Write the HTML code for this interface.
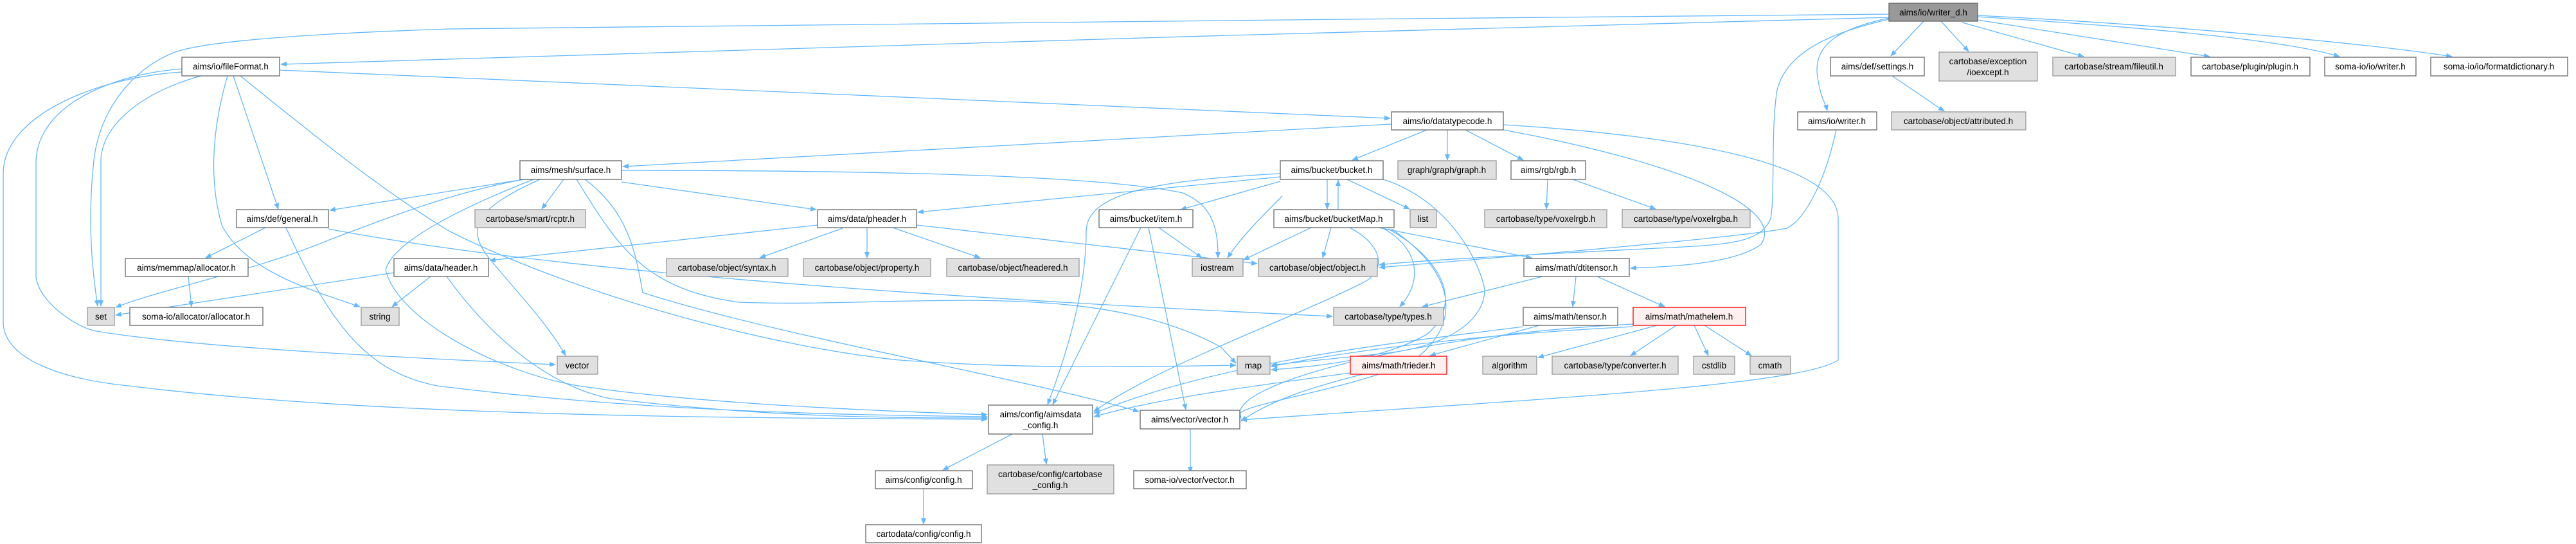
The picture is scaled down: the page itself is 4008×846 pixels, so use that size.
<!DOCTYPE html>
<html><head><meta charset="utf-8"><style>
html,body{margin:0;padding:0;background:#fff;}
svg{display:block;}
text{font-family:"Liberation Sans","DejaVu Sans",sans-serif;font-size:13.5px;fill:#000;}
.w{fill:#fff;stroke:#666;stroke-width:1.3}
.g{fill:#e0e0e0;stroke:#999;stroke-width:1.3}
.m{fill:#999;stroke:#666;stroke-width:1.3}
.r{fill:#fff0f0;stroke:#f00;stroke-width:1.3}
.e{fill:none;stroke:#63b8ff;stroke-width:1.3;marker-end:url(#a)}
</style></head><body>
<svg width="4008" height="846" viewBox="0 0 4008 846" xmlns="http://www.w3.org/2000/svg">
<defs><marker id="a" markerWidth="10" markerHeight="8" refX="9" refY="4" orient="auto" markerUnits="userSpaceOnUse"><path d="M0,0 L10,4 L0,8 z" fill="#63b8ff"/></marker></defs>
<g>
<!-- writer_d edges -->
<path class="e" d="M2939,22 C2200,30 1000,38 700,45 C400,55 300,70 270,82 C200,110 150,180 145,260 C138,330 140,400 152,476"/>
<path class="e" d="M2939,27 C2200,45 1000,82 437,100"/>
<path class="e" d="M2993,33 L2942,87"/>
<path class="e" d="M2939,28 C2860,45 2820,70 2828,120 C2832,150 2840,160 2843,172"/>
<path class="e" d="M2939,30 C2850,50 2780,80 2765,140 C2755,200 2762,300 2755,340 C2740,375 2700,380 2600,385 C2400,395 2200,405 2146,412"/>
<path class="e" d="M2857,202 C2840,280 2810,340 2780,355 C2700,370 2400,395 2146,416"/>
<path class="e" d="M3020,33 L3063,80"/>
<path class="e" d="M3053,35 L3242,88"/>
<path class="e" d="M3077,31 L3438,88"/>
<path class="e" d="M3077,26 C3300,40 3550,60 3640,88"/>
<path class="e" d="M3077,24 C3400,40 3700,70 3815,88"/>
<path class="e" d="M2944,118 L3025,173"/>
<!-- fileFormat edges -->
<path class="e" d="M435,109 L2163,184"/>
<path class="e" d="M283,107 C180,115 60,160 56,250 L56,430 C60,470 120,510 150,515 C300,540 600,555 864,567"/>
<path class="e" d="M283,112 C150,120 5,180 5,270 L5,500 C5,560 100,590 200,600 C600,650 1200,650 1536,652"/>
<path class="e" d="M313,118 C230,140 158,190 157,250 L157,476"/>
<path class="e" d="M354,118 C330,200 325,280 345,350 C380,420 480,450 560,477"/>
<path class="e" d="M363,118 L433,325"/>
<path class="e" d="M374,118 C500,220 600,300 700,360 C900,460 1200,540 1400,560 C1600,575 1800,570 1923,568"/>
<!-- general -->
<path class="e" d="M413,354 L320,401"/>
<path class="e" d="M511,356 C900,430 1600,470 2073,492"/>
<path class="e" d="M445,354 C520,520 580,580 680,600 C1000,640 1300,645 1536,648"/>
<path class="e" d="M293,430 L298,477"/>
<!-- surface -->
<path class="e" d="M815,279 L513,327"/>
<path class="e" d="M815,279 C700,300 600,340 510,374 C400,420 250,450 180,478"/>
<path class="e" d="M877,279 L843,325"/>
<path class="e" d="M840,279 C750,320 720,350 760,400 C800,450 850,500 880,553"/>
<path class="e" d="M830,279 C700,330 610,380 600,420 C620,500 780,580 900,600 C1100,630 1400,640 1536,645"/>
<path class="e" d="M967,283 L1270,326"/>
<path class="e" d="M967,265 C1300,265 1700,270 1840,300 C1890,320 1895,360 1895,401"/>
<path class="e" d="M897,279 C960,380 1000,450 1150,470 C1400,480 1700,430 1900,540 L1923,565"/>
<path class="e" d="M910,279 C980,330 990,400 1000,455 C1200,520 1600,590 1772,640"/>
<!-- header / pheader -->
<path class="e" d="M1272,350 L762,405"/>
<path class="e" d="M613,424 L180,490"/>
<path class="e" d="M670,430 L610,477"/>
<path class="e" d="M695,430 C760,520 850,600 950,620 C1200,650 1400,650 1536,650"/>
<path class="e" d="M1311,355 L1182,401"/>
<path class="e" d="M1349,354 L1349,401"/>
<path class="e" d="M1389,354 L1525,401"/>
<path class="e" d="M1426,350 L1956,410"/>
<!-- item -->
<path class="e" d="M1803,354 L1870,401"/>
<path class="e" d="M1775,354 L1638,629"/>
<path class="e" d="M1787,354 L1845,637"/>
<!-- bucket -->
<path class="e" d="M1992,282 L1837,326"/>
<path class="e" d="M1992,275 L1428,330"/>
<path class="e" d="M1992,270 C1800,280 1690,300 1690,360 C1690,450 1660,550 1630,629"/>
<path class="e" d="M1995,305 C1960,340 1930,370 1910,401"/>
<path class="e" d="M2065,279 L2065,325"/>
<path class="e" d="M2082,326 L2082,280"/>
<path class="e" d="M2096,279 L2193,325"/>
<path class="e" d="M2152,279 C2250,310 2300,400 2310,450 C2310,500 2250,540 2150,550 C2050,560 2000,565 1978,568"/>
<!-- bucketMap -->
<path class="e" d="M2071,354 L2058,401"/>
<path class="e" d="M2040,354 L1935,404"/>
<path class="e" d="M2145,354 L2383,401"/>
<path class="e" d="M2150,354 C2200,380 2220,430 2178,477"/>
<path class="e" d="M2100,354 C2150,380 2160,420 2120,440 C2000,500 1800,570 1702,640"/>
<path class="e" d="M2160,356 C2240,400 2280,470 2220,520 C2150,560 2050,570 1978,575"/>
<path class="e" d="M2165,356 C2260,420 2280,500 2200,560 C2100,610 1900,630 1931,650"/>
<!-- datatypecode -->
<path class="e" d="M2220,202 L2104,249"/>
<path class="e" d="M2252,202 L2252,249"/>
<path class="e" d="M2280,202 L2370,249"/>
<path class="e" d="M2339,202 C2600,250 2780,320 2740,380 C2700,410 2600,415 2537,417"/>
<path class="e" d="M2339,194 C2600,210 2860,250 2860,340 L2860,560 C2800,600 2400,620 1931,653"/>
<path class="e" d="M2165,193 L969,259"/>
<!-- rgb -->
<path class="e" d="M2408,279 L2406,325"/>
<path class="e" d="M2447,279 L2576,325"/>
<!-- dtitensor -->
<path class="e" d="M2400,430 L2213,477"/>
<path class="e" d="M2452,430 L2447,477"/>
<path class="e" d="M2485,430 L2590,477"/>
<!-- tensor / mathelem / trieder -->
<path class="e" d="M2395,506 L2225,553"/>
<path class="e" d="M2370,508 C2200,530 1900,560 1702,643"/>
<path class="e" d="M2541,508 C2300,520 2100,545 1978,570"/>
<path class="e" d="M2578,506 L2393,556"/>
<path class="e" d="M2608,506 L2537,553"/>
<path class="e" d="M2636,506 L2658,553"/>
<path class="e" d="M2652,506 L2725,553"/>
<path class="e" d="M2541,504 C2200,520 1900,600 1931,650"/>
<path class="e" d="M2101,580 C1950,600 1800,620 1702,648"/>
<path class="e" d="M2120,582 C2050,600 1980,620 1931,655"/>
<!-- lower -->
<path class="e" d="M1575,675 L1467,731"/>
<path class="e" d="M1622,675 L1628,722"/>
<path class="e" d="M1852,667 L1852,735"/>
<path class="e" d="M1437,760 L1437,815"/>
</g>
<g>
<rect class="m" x="2939" y="5" width="138" height="28"/><text x="3008" y="24" text-anchor="middle">aims/io/writer_d.h</text>
<rect class="w" x="283" y="89" width="152" height="29"/><text x="359" y="108" text-anchor="middle">aims/io/fileFormat.h</text>
<rect class="w" x="2848" y="89" width="146" height="29"/><text x="2921" y="108" text-anchor="middle">aims/def/settings.h</text>
<rect class="g" x="3017" y="81" width="153" height="45"/><text x="3093" y="100" text-anchor="middle">cartobase/exception</text><text x="3093" y="117" text-anchor="middle">/ioexcept.h</text>
<rect class="g" x="3194" y="89" width="191" height="29"/><text x="3289" y="108" text-anchor="middle">cartobase/stream/fileutil.h</text>
<rect class="w" x="3409" y="89" width="185" height="29"/><text x="3501" y="108" text-anchor="middle">cartobase/plugin/plugin.h</text>
<rect class="w" x="3617" y="89" width="142" height="29"/><text x="3688" y="108" text-anchor="middle">soma-io/io/writer.h</text>
<rect class="w" x="3782" y="89" width="213" height="29"/><text x="3888" y="108" text-anchor="middle">soma-io/io/formatdictionary.h</text>
<rect class="w" x="2165" y="174" width="174" height="28"/><text x="2252" y="193" text-anchor="middle">aims/io/datatypecode.h</text>
<rect class="w" x="2797" y="174" width="123" height="28"/><text x="2858" y="193" text-anchor="middle">aims/io/writer.h</text>
<rect class="g" x="2943" y="174" width="209" height="28"/><text x="3047" y="193" text-anchor="middle">cartobase/object/attributed.h</text>
<rect class="w" x="809" y="250" width="158" height="29"/><text x="888" y="269" text-anchor="middle">aims/mesh/surface.h</text>
<rect class="w" x="1992" y="250" width="160" height="29"/><text x="2072" y="269" text-anchor="middle">aims/bucket/bucket.h</text>
<rect class="g" x="2175" y="250" width="153" height="29"/><text x="2251" y="269" text-anchor="middle">graph/graph/graph.h</text>
<rect class="w" x="2351" y="250" width="116" height="29"/><text x="2409" y="269" text-anchor="middle">aims/rgb/rgb.h</text>
<rect class="w" x="368" y="326" width="143" height="28"/><text x="439" y="345" text-anchor="middle">aims/def/general.h</text>
<rect class="g" x="739" y="326" width="172" height="28"/><text x="825" y="345" text-anchor="middle">cartobase/smart/rcptr.h</text>
<rect class="w" x="1272" y="326" width="154" height="28"/><text x="1349" y="345" text-anchor="middle">aims/data/pheader.h</text>
<rect class="w" x="1710" y="326" width="146" height="28"/><text x="1783" y="345" text-anchor="middle">aims/bucket/item.h</text>
<rect class="w" x="1982" y="326" width="187" height="28"/><text x="2075" y="345" text-anchor="middle">aims/bucket/bucketMap.h</text>
<rect class="g" x="2194" y="326" width="41" height="28"/><text x="2214" y="345" text-anchor="middle">list</text>
<rect class="g" x="2310" y="326" width="190" height="28"/><text x="2405" y="345" text-anchor="middle">cartobase/type/voxelrgb.h</text>
<rect class="g" x="2524" y="326" width="199" height="28"/><text x="2623" y="345" text-anchor="middle">cartobase/type/voxelrgba.h</text>
<rect class="w" x="195" y="402" width="191" height="28"/><text x="290" y="421" text-anchor="middle">aims/memmap/allocator.h</text>
<rect class="w" x="613" y="402" width="147" height="28"/><text x="686" y="421" text-anchor="middle">aims/data/header.h</text>
<rect class="g" x="1037" y="402" width="189" height="28"/><text x="1131" y="421" text-anchor="middle">cartobase/object/syntax.h</text>
<rect class="g" x="1250" y="402" width="198" height="28"/><text x="1349" y="421" text-anchor="middle">cartobase/object/property.h</text>
<rect class="g" x="1473" y="402" width="206" height="28"/><text x="1576" y="421" text-anchor="middle">cartobase/object/headered.h</text>
<rect class="g" x="1855" y="402" width="79" height="28"/><text x="1894" y="421" text-anchor="middle">iostream</text>
<rect class="g" x="1958" y="402" width="185" height="28"/><text x="2050" y="421" text-anchor="middle">cartobase/object/object.h</text>
<rect class="w" x="2371" y="402" width="164" height="28"/><text x="2453" y="421" text-anchor="middle">aims/math/dtitensor.h</text>
<rect class="g" x="136" y="478" width="42" height="28"/><text x="157" y="497" text-anchor="middle">set</text>
<rect class="w" x="202" y="478" width="207" height="28"/><text x="305" y="497" text-anchor="middle">soma-io/allocator/allocator.h</text>
<rect class="g" x="562" y="478" width="59" height="28"/><text x="591" y="497" text-anchor="middle">string</text>
<rect class="g" x="2075" y="478" width="171" height="28"/><text x="2160" y="497" text-anchor="middle">cartobase/type/types.h</text>
<rect class="w" x="2370" y="478" width="147" height="28"/><text x="2443" y="497" text-anchor="middle">aims/math/tensor.h</text>
<rect class="r" x="2541" y="478" width="175" height="28"/><text x="2628" y="497" text-anchor="middle">aims/math/mathelem.h</text>
<rect class="g" x="867" y="554" width="63" height="28"/><text x="898" y="573" text-anchor="middle">vector</text>
<rect class="g" x="1925" y="554" width="51" height="28"/><text x="1950" y="573" text-anchor="middle">map</text>
<rect class="r" x="2101" y="554" width="150" height="28"/><text x="2176" y="573" text-anchor="middle">aims/math/trieder.h</text>
<rect class="g" x="2307" y="554" width="84" height="28"/><text x="2349" y="573" text-anchor="middle">algorithm</text>
<rect class="g" x="2415" y="554" width="196" height="28"/><text x="2513" y="573" text-anchor="middle">cartobase/type/converter.h</text>
<rect class="g" x="2635" y="554" width="64" height="28"/><text x="2667" y="573" text-anchor="middle">cstdlib</text>
<rect class="g" x="2723" y="554" width="63" height="28"/><text x="2754" y="573" text-anchor="middle">cmath</text>
<rect class="w" x="1538" y="630" width="162" height="45"/><text x="1619" y="649" text-anchor="middle">aims/config/aimsdata</text><text x="1619" y="666" text-anchor="middle">_config.h</text>
<rect class="w" x="1774" y="638" width="155" height="29"/><text x="1851" y="657" text-anchor="middle">aims/vector/vector.h</text>
<rect class="w" x="1362" y="732" width="151" height="28"/><text x="1437" y="751" text-anchor="middle">aims/config/config.h</text>
<rect class="g" x="1536" y="723" width="197" height="45"/><text x="1634" y="742" text-anchor="middle">cartobase/config/cartobase</text><text x="1634" y="759" text-anchor="middle">_config.h</text>
<rect class="w" x="1764" y="732" width="175" height="28"/><text x="1851" y="751" text-anchor="middle">soma-io/vector/vector.h</text>
<rect class="w" x="1347" y="816" width="180" height="28"/><text x="1437" y="835" text-anchor="middle">cartodata/config/config.h</text>
</g>
</svg>
</body></html>
